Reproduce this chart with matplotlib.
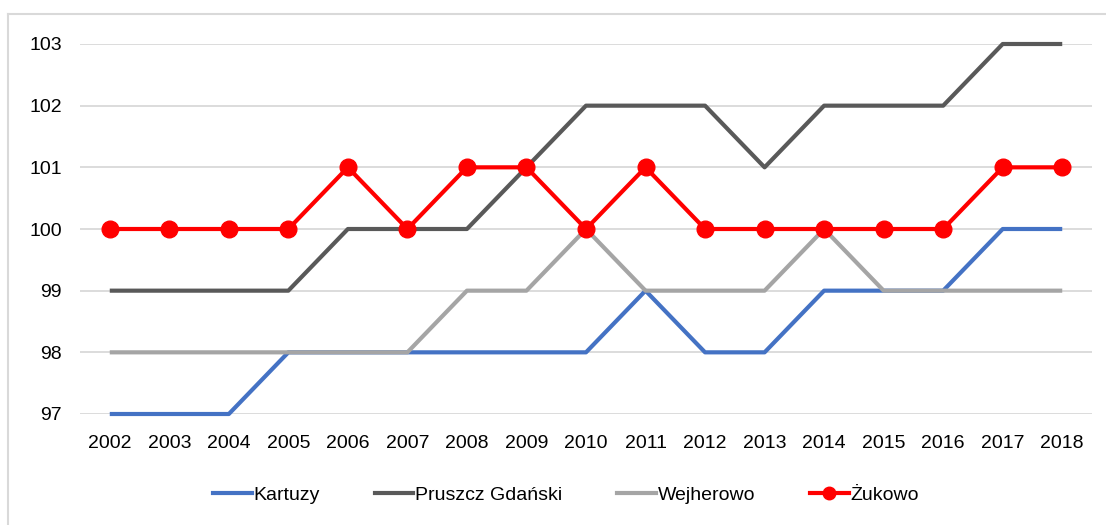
import matplotlib
matplotlib.use("Agg")
import matplotlib.pyplot as plt
from matplotlib.lines import Line2D

plt.rcParams['font.family'] = ['Liberation Sans Narrow', 'Liberation Sans', 'DejaVu Sans']

years = ["2002", "2003", "2004", "2005", "2006", "2007", "2008", "2009", "2010",
         "2011", "2012", "2013", "2014", "2015", "2016", "2017", "2018"]
kartuzy = [97, 97, 97, 98, 98, 98, 98, 98, 98, 99, 98, 98, 99, 99, 99, 100, 100]
pruszcz = [99, 99, 99, 99, 100, 100, 100, 101, 102, 102, 102, 101, 102, 102, 102, 103, 103]
wejherowo = [98, 98, 98, 98, 98, 98, 99, 99, 100, 99, 99, 99, 100, 99, 99, 99, 99]
zukowo = [100, 100, 100, 100, 101, 100, 101, 101, 100, 101, 100, 100, 100, 100, 100, 101, 101]
yticks = [97, 98, 99, 100, 101, 102, 103]
names = ["Kartuzy", "Pruszcz Gdański", "Wejherowo", "Żukowo"]

W, H = 1106, 525
fig = plt.figure(figsize=(W / 100, H / 100), dpi=100)
ax = fig.add_axes([80 / W, (H - 414) / H, (1092 - 80) / W, (414 - 44) / H])

x = list(range(len(years)))
lw = 3.0
ax.plot(x, kartuzy, color="#4472C4", lw=lw, clip_on=False, zorder=3, solid_capstyle='butt')
ax.plot(x, pruszcz, color="#595959", lw=lw, clip_on=False, zorder=3, solid_capstyle='butt')
ax.plot(x, wejherowo, color="#A5A5A5", lw=lw, clip_on=False, zorder=3, solid_capstyle='butt')
ax.plot(x, zukowo, color="#FF0000", lw=lw, marker="o", markersize=12, clip_on=False, zorder=4)

ax.set_xlim(-0.5, len(years) - 0.5)
ax.set_ylim(97, 103)
ax.set_yticks(yticks)
ax.set_yticklabels([str(v) for v in yticks], fontsize=14)
ax.set_xticks(x)
ax.set_xticklabels(years, fontsize=14)
ax.tick_params(axis='both', length=0)
ax.tick_params(axis='y', pad=13)
ax.tick_params(axis='x', pad=15)
ax.grid(axis='y', color="#D9D9D9", lw=1.3)
ax.set_axisbelow(True)
for s in ax.spines.values():
    s.set_visible(False)

handles = [
    Line2D([], [], color="#4472C4", lw=lw),
    Line2D([], [], color="#595959", lw=lw),
    Line2D([], [], color="#A5A5A5", lw=lw),
    Line2D([], [], color="#FF0000", lw=lw, marker="o", markersize=9),
]
fig.legend(handles, names, loc="center", bbox_to_anchor=(566 / W, 1 - 495 / H), ncol=4,
           frameon=False, fontsize=14, handlelength=2.0, handletextpad=0.1, columnspacing=2.8)

# figure frame
fig.add_artist(Line2D([8 / W, 1.0], [1 - 14 / H, 1 - 14 / H], color="#D9D9D9", lw=1.5,
                      transform=fig.transFigure))
fig.add_artist(Line2D([8 / W, 8 / W], [0, 1 - 14 / H], color="#D9D9D9", lw=1.5,
                      transform=fig.transFigure))

fig.savefig("out.png", dpi=100)
